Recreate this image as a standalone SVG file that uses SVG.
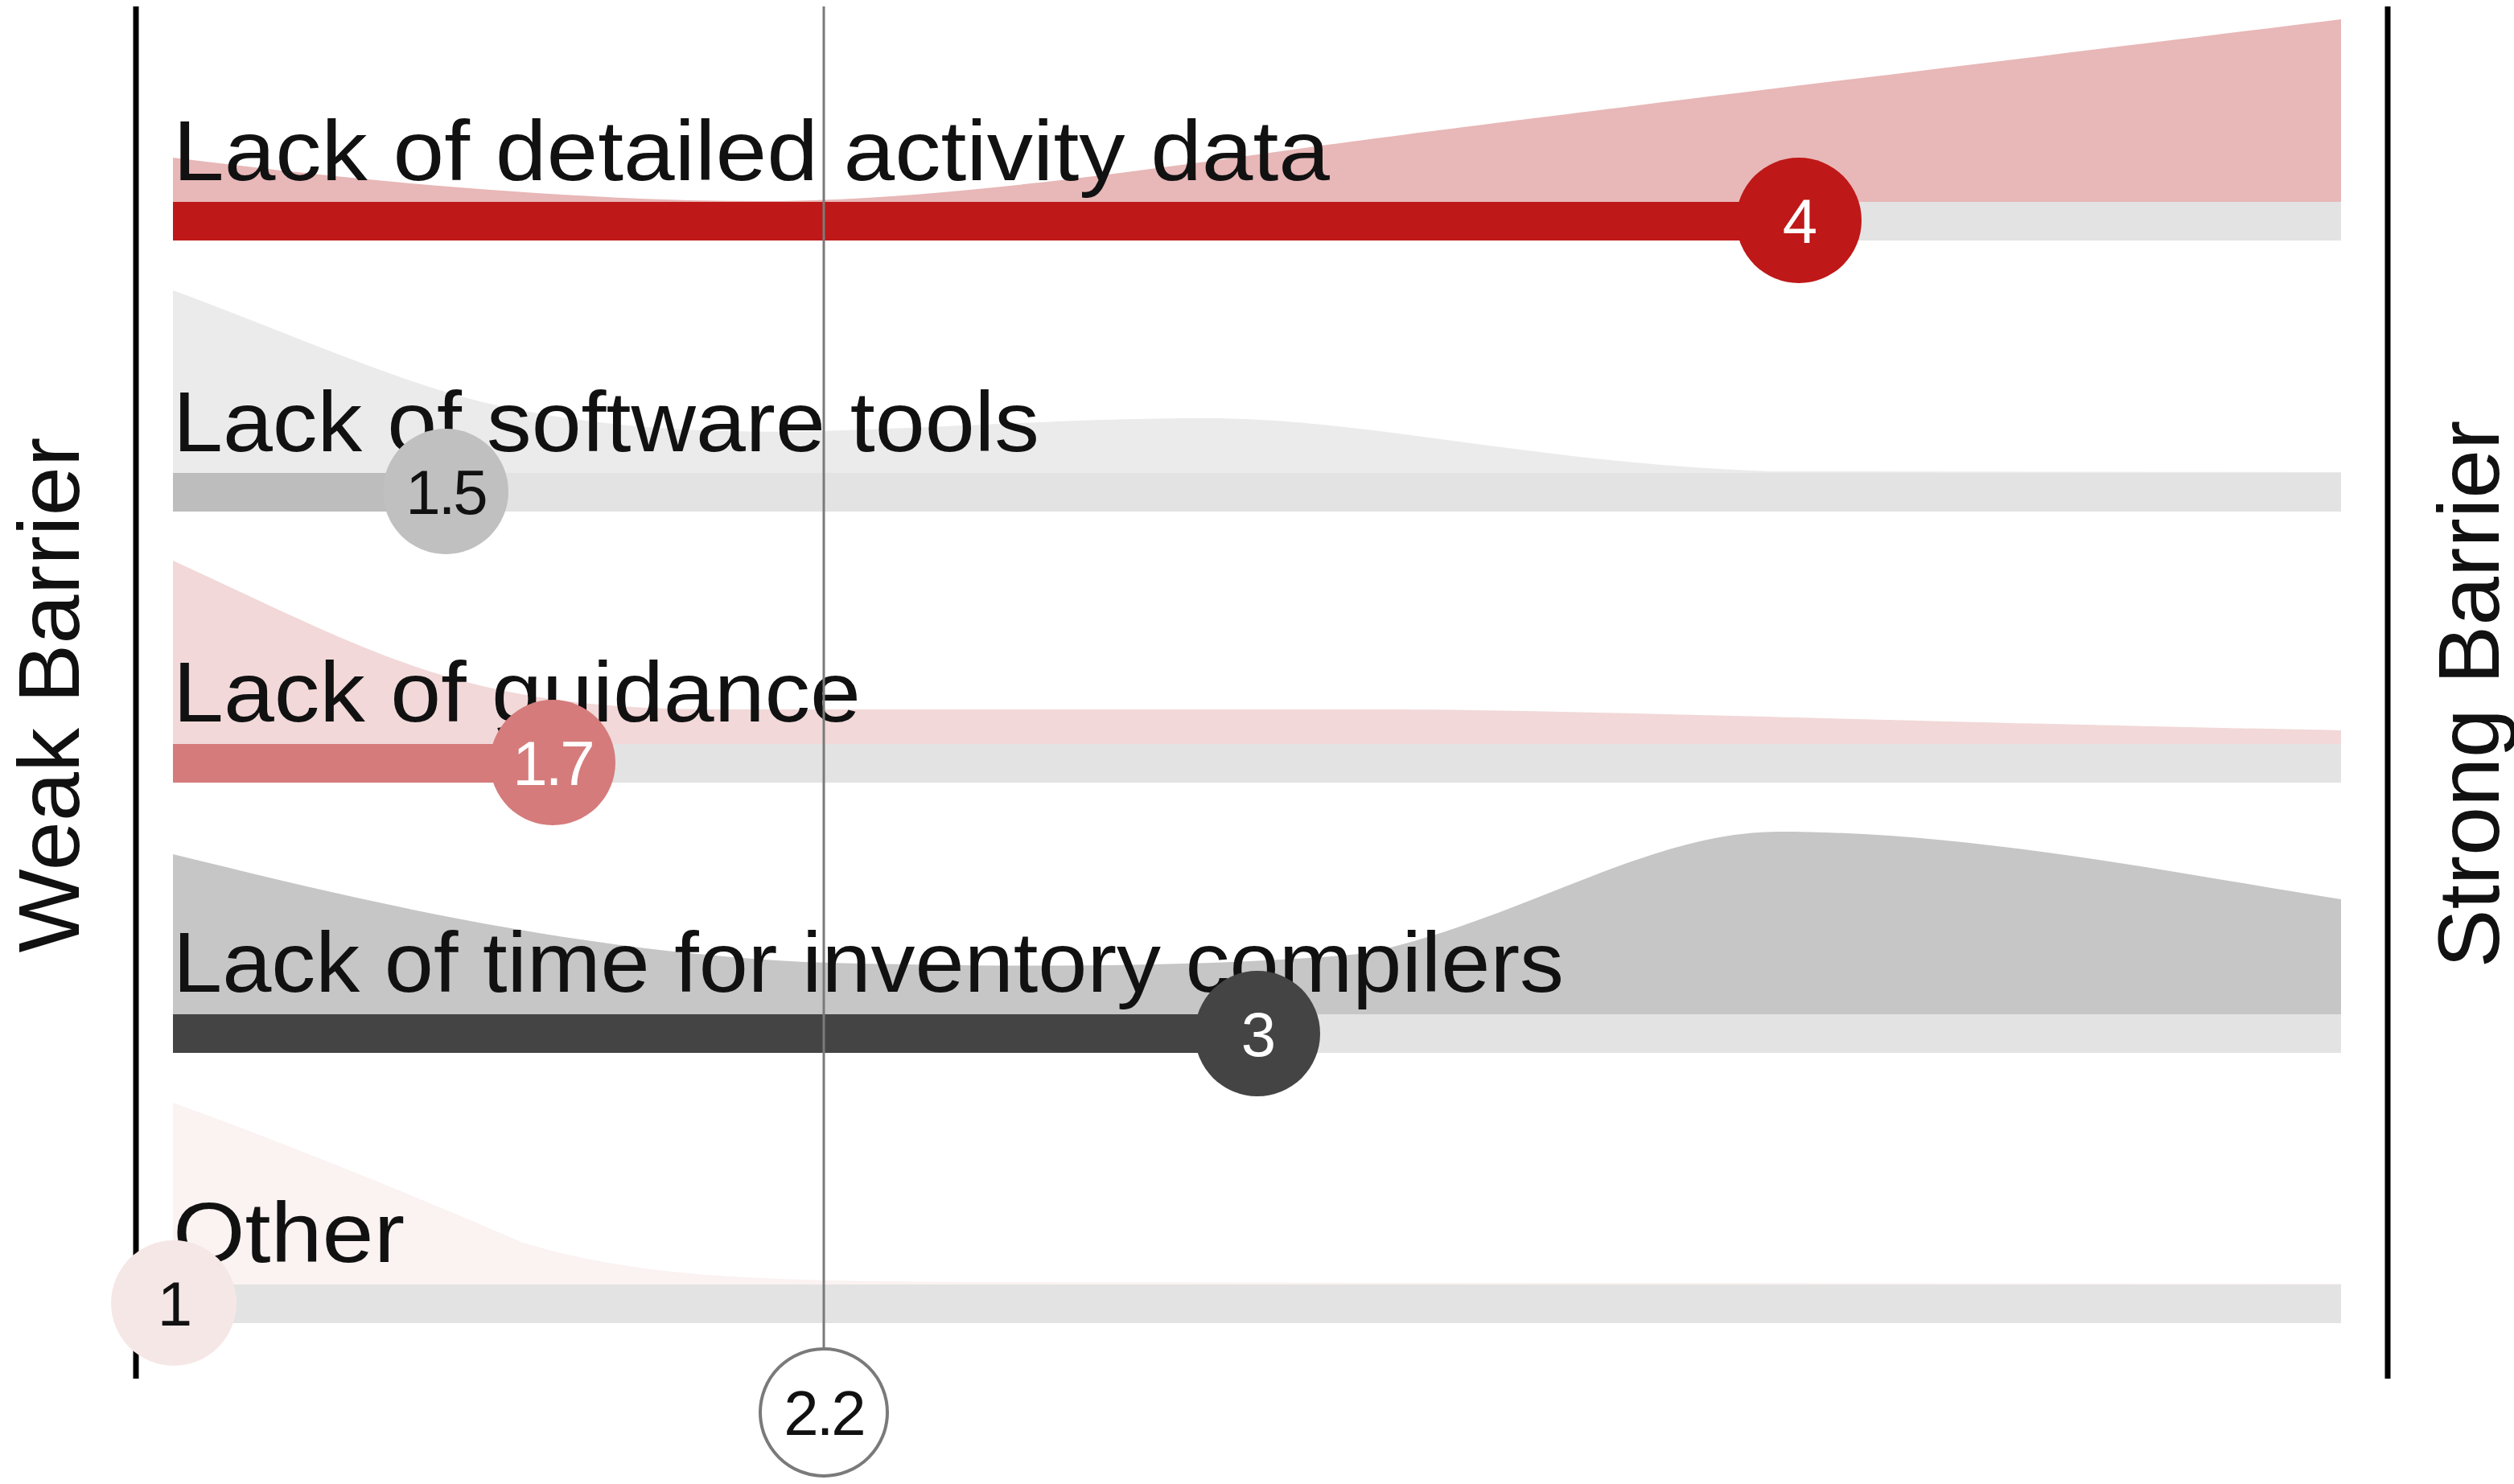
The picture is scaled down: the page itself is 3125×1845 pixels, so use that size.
<svg xmlns="http://www.w3.org/2000/svg" width="3125" height="1845" viewBox="0 0 3125 1845">
<style>
.lbl{font-family:"Liberation Sans",Arial,sans-serif;font-size:105px;fill:#111}
.ax{font-family:"Liberation Sans",Arial,sans-serif;font-size:108px;fill:#111}
.num{font-family:"Liberation Sans",Arial,sans-serif;font-size:78px;text-anchor:middle;letter-spacing:-3px}
.track{fill:#e3e3e3}
.axis{stroke:#000;stroke-width:7;fill:none}
</style>
<rect width="3125" height="1845" fill="#fff"/>

<g id="axes">
<line class="axis" x1="169" y1="8" x2="169" y2="1714"/>
<line class="axis" x1="2968" y1="8" x2="2968" y2="1714"/>
<text class="ax" transform="translate(98,864) rotate(-90)" text-anchor="middle" textLength="641" lengthAdjust="spacingAndGlyphs">Weak Barrier</text>
<text class="ax" transform="translate(3106,863) rotate(-90)" text-anchor="middle" textLength="681" lengthAdjust="spacingAndGlyphs">Strong Barrier</text>
</g>

<g id="row1">
<path fill="#e8b7b7" d="M215,251 V196 C420,222 700,250 950,250 C1150,250 1400,215 1650,180 C1900,146 2500,75 2910,24 V251 Z"/>
<rect class="track" x="215" y="251" width="2695" height="48"/>
<rect fill="#bf1818" x="215" y="251" width="2021" height="48"/>
<text class="lbl" x="215" y="224" textLength="1438" lengthAdjust="spacingAndGlyphs">Lack of detailed activity data</text>
</g>

<g id="row2">
<path fill="#ebebeb" d="M215,588 V361 C350,410 480,470 600,500 C750,535 900,540 1050,535 C1250,528 1350,520 1500,520 C1700,520 1900,575 2200,586 L2910,587 V588 Z"/>
<rect class="track" x="215" y="588" width="2695" height="48"/>
<rect fill="#bdbdbd" x="215" y="588" width="337" height="48"/>
<text class="lbl" x="215" y="561" textLength="1077" lengthAdjust="spacingAndGlyphs">Lack of software tools</text>
</g>

<g id="row3">
<path fill="#f2d8d8" d="M215,925 V697 C330,750 430,800 520,830 C640,870 750,882 900,882 L1745,882 C2000,884 2400,898 2910,908 V925 Z"/>
<rect class="track" x="215" y="925" width="2695" height="48"/>
<rect fill="#d57b7b" x="215" y="925" width="472" height="48"/>
<text class="lbl" x="215" y="897" textLength="855" lengthAdjust="spacingAndGlyphs">Lack of guidance</text>
</g>

<g id="row4">
<path fill="#c6c6c6" d="M215,1261 V1062 C450,1120 700,1180 1000,1196 C1300,1205 1550,1200 1700,1185 C1900,1140 2050,1034 2212,1034 C2450,1034 2700,1085 2910,1118 V1261 Z"/>
<rect class="track" x="215" y="1261" width="2695" height="48"/>
<rect fill="#444444" x="215" y="1261" width="1348" height="48"/>
<text class="lbl" x="215" y="1233" textLength="1729" lengthAdjust="spacingAndGlyphs">Lack of time for inventory compilers</text>
</g>

<g id="row5">
<path fill="#fbf2f2" d="M215,1597 V1371 C350,1420 500,1480 650,1545 C800,1590 950,1592 1200,1594 L2910,1596 V1597 Z"/>
<rect class="track" x="215" y="1597" width="2695" height="48"/>
<text class="lbl" x="215" y="1569" textLength="288" lengthAdjust="spacingAndGlyphs">Other</text>
</g>

<g id="connectors">
<line x1="1024" y1="8" x2="1024" y2="1676" stroke="#7a7a7a" stroke-width="3"/>
</g>

<g id="value-circles">
<g id="v1"><circle cx="2236" cy="274" r="78" fill="#bf1818"/><text class="num" x="2236" y="302" fill="#fff">4</text></g>
<g id="v2"><circle cx="554" cy="611" r="78" fill="#c0c0c0"/><text class="num" x="554" y="639" fill="#111">1.5</text></g>
<g id="v3"><circle cx="687" cy="948" r="78" fill="#d57b7b"/><text class="num" x="687" y="976" fill="#fff">1.7</text></g>
<g id="v4"><circle cx="1563" cy="1285" r="78" fill="#444444"/><text class="num" x="1563" y="1313" fill="#fff">3</text></g>
<g id="v5"><circle cx="216" cy="1620" r="78" fill="#f6e7e7"/><text class="num" x="216" y="1648" fill="#111">1</text></g>
</g>

<g id="mean">
<circle cx="1024" cy="1756" r="79" fill="#fff" stroke="#7a7a7a" stroke-width="4"/>
<text class="num" x="1024" y="1784" fill="#111">2.2</text>
</g>
</svg>
